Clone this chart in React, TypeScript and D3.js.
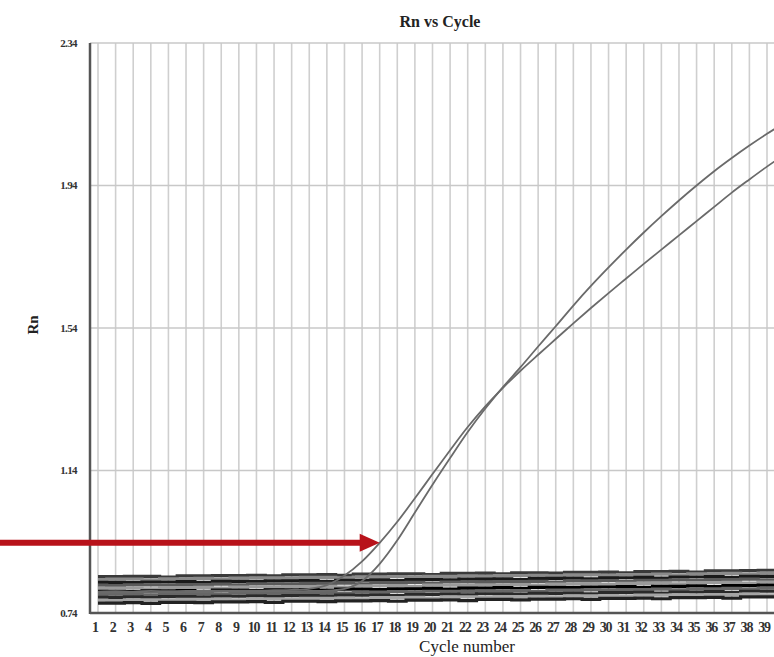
import React, { useEffect } from "react";
import * as d3 from "d3";

const cycles = d3.range(1, 41);
const yTicks = [0.74, 1.14, 1.54, 1.94, 2.34];
const hLines = [1.14, 1.54, 1.94, 2.34];

// two amplified samples
const sampleA = [0.800, 0.801, 0.800, 0.802, 0.801, 0.802, 0.802, 0.803, 0.803, 0.803, 0.804, 0.805, 0.808, 0.818, 0.845, 0.885, 0.937, 0.996, 1.062, 1.130,
  1.197, 1.262, 1.320, 1.372, 1.420, 1.465, 1.509, 1.553, 1.596, 1.638, 1.679, 1.720, 1.760, 1.800, 1.840, 1.880, 1.920, 1.957, 1.993, 2.027];
const sampleB = [0.797, 0.797, 0.798, 0.798, 0.798, 0.799, 0.799, 0.800, 0.800, 0.800, 0.801, 0.801, 0.802, 0.803, 0.808, 0.830, 0.878, 0.944, 1.022, 1.100,
  1.175, 1.248, 1.314, 1.374, 1.430, 1.488, 1.545, 1.603, 1.658, 1.710, 1.760, 1.808, 1.854, 1.898, 1.940, 1.980, 2.017, 2.052, 2.085, 2.116];

// non-amplified wells (the dark band at the bottom)
const base1 = [0.842, 0.842, 0.843, 0.843, 0.841, 0.844, 0.844, 0.845, 0.845, 0.846, 0.844, 0.847, 0.847, 0.848, 0.846, 0.849, 0.849, 0.850, 0.850, 0.848, 0.851, 0.851, 0.852, 0.850, 0.853, 0.853, 0.852, 0.854, 0.854, 0.855, 0.853, 0.856, 0.856, 0.857, 0.855, 0.858, 0.858, 0.859, 0.860, 0.860];
const base2 = [0.834, 0.835, 0.835, 0.833, 0.836, 0.836, 0.837, 0.835, 0.838, 0.838, 0.839, 0.837, 0.840, 0.840, 0.838, 0.841, 0.841, 0.842, 0.840, 0.843, 0.843, 0.844, 0.842, 0.845, 0.845, 0.846, 0.844, 0.847, 0.847, 0.845, 0.848, 0.848, 0.849, 0.847, 0.850, 0.850, 0.851, 0.849, 0.852, 0.852];
const base3 = [0.826, 0.826, 0.825, 0.827, 0.827, 0.828, 0.826, 0.829, 0.829, 0.828, 0.830, 0.830, 0.831, 0.829, 0.832, 0.832, 0.833, 0.831, 0.834, 0.834, 0.833, 0.835, 0.835, 0.836, 0.834, 0.837, 0.837, 0.838, 0.836, 0.839, 0.839, 0.840, 0.838, 0.841, 0.841, 0.842, 0.840, 0.843, 0.843, 0.844];
const base4 = [0.818, 0.817, 0.819, 0.819, 0.818, 0.820, 0.820, 0.821, 0.819, 0.822, 0.822, 0.821, 0.823, 0.823, 0.824, 0.822, 0.825, 0.825, 0.826, 0.824, 0.827, 0.827, 0.826, 0.828, 0.828, 0.829, 0.827, 0.830, 0.830, 0.831, 0.829, 0.832, 0.832, 0.833, 0.831, 0.834, 0.834, 0.835, 0.833, 0.836];
const base5 = [0.809, 0.810, 0.810, 0.808, 0.811, 0.811, 0.812, 0.810, 0.813, 0.813, 0.812, 0.814, 0.814, 0.815, 0.813, 0.816, 0.816, 0.817, 0.815, 0.818, 0.818, 0.817, 0.819, 0.819, 0.820, 0.818, 0.821, 0.821, 0.822, 0.820, 0.823, 0.823, 0.824, 0.822, 0.825, 0.825, 0.826, 0.824, 0.827, 0.827];
const base6 = [0.801, 0.801, 0.800, 0.802, 0.802, 0.803, 0.801, 0.804, 0.804, 0.803, 0.805, 0.805, 0.806, 0.804, 0.807, 0.807, 0.806, 0.808, 0.808, 0.809, 0.807, 0.810, 0.810, 0.811, 0.809, 0.812, 0.812, 0.811, 0.813, 0.813, 0.814, 0.812, 0.815, 0.815, 0.816, 0.814, 0.817, 0.817, 0.818, 0.818];
const base7 = [0.792, 0.793, 0.793, 0.791, 0.794, 0.794, 0.795, 0.793, 0.796, 0.796, 0.795, 0.797, 0.797, 0.798, 0.796, 0.799, 0.799, 0.800, 0.798, 0.801, 0.801, 0.800, 0.802, 0.802, 0.803, 0.801, 0.804, 0.804, 0.805, 0.803, 0.806, 0.806, 0.807, 0.805, 0.808, 0.808, 0.809, 0.807, 0.810, 0.810];
const base8 = [0.784, 0.784, 0.785, 0.783, 0.786, 0.786, 0.785, 0.787, 0.787, 0.788, 0.786, 0.789, 0.789, 0.788, 0.790, 0.790, 0.791, 0.789, 0.792, 0.792, 0.793, 0.791, 0.794, 0.794, 0.793, 0.795, 0.795, 0.796, 0.794, 0.797, 0.797, 0.798, 0.796, 0.799, 0.799, 0.800, 0.798, 0.801, 0.801, 0.802];
const base9 = [0.776, 0.775, 0.777, 0.777, 0.776, 0.778, 0.778, 0.779, 0.777, 0.780, 0.780, 0.779, 0.781, 0.781, 0.782, 0.780, 0.783, 0.783, 0.784, 0.782, 0.785, 0.785, 0.784, 0.786, 0.786, 0.787, 0.785, 0.788, 0.788, 0.789, 0.787, 0.790, 0.790, 0.791, 0.789, 0.792, 0.792, 0.793, 0.791, 0.794];
const base10 = [0.768, 0.768, 0.769, 0.767, 0.770, 0.770, 0.769, 0.771, 0.771, 0.772, 0.770, 0.773, 0.773, 0.772, 0.774, 0.774, 0.775, 0.773, 0.776, 0.776, 0.777, 0.775, 0.778, 0.778, 0.777, 0.779, 0.779, 0.780, 0.778, 0.781, 0.781, 0.782, 0.780, 0.783, 0.783, 0.784, 0.782, 0.785, 0.785, 0.786];

const baseSeries = [base1, base2, base3, base4, base5, base6, base7, base8, base9, base10];
const baseColors = ["#3a3a3a", "#8a8a8a", "#1a1a1a", "#5a5a5a", "#9a9a9a", "#000", "#666", "#2a2a2a", "#a5a5a5", "#222"];

// threshold crossing pointed at by the arrow
const arrowCycle = 17;
const arrowValue = 0.937;

const W = 774;
const H = 657;
const serif = "'Liberation Serif', 'DejaVu Serif', serif";

export default function App() {
  useEffect(() => {
    document.body.style.margin = "0";
  }, []);

  const x = d3.scaleLinear().domain([1, 39]).range([98, 767]);
  const y = d3.scaleLinear().domain([0.74, 2.34]).range([613, 43]);
  const left = 90;

  const line = d3.line<number>()
    .x((d, i) => x(cycles[i]))
    .y(d => y(d))
    .curve(d3.curveMonotoneX);

  const stepLine = d3.line<number>()
    .x((d, i) => x(cycles[i]))
    .y(d => y(d))
    .curve(d3.curveStep);

  const tipX = x(arrowCycle);
  const tipY = y(arrowValue);

  return (
    <svg width={W} height={H} style={{ display: "block", background: "#fff" }}>
      {/* title */}
      <text x={440} y={27} textAnchor="middle" fontFamily={serif} fontSize={16} fontWeight="bold" fill="#222">Rn vs Cycle</text>

      {/* grid */}
      {cycles.map(c => (
        <line key={"v" + c} x1={x(c)} x2={x(c)} y1={y(2.34)} y2={y(0.74)} stroke="#cfcfcf" strokeWidth={1.6} />
      ))}
      {hLines.map(v => (
        <line key={"h" + v} x1={left} x2={W} y1={y(v)} y2={y(v)} stroke="#c8c8c8" strokeWidth={1.6} />
      ))}

      {/* baseline wells */}
      {baseSeries.map((s, i) => (
        <path key={"b" + i} d={stepLine(s) || ""} fill="none" stroke={baseColors[i]} strokeWidth={3.2} />
      ))}

      {/* amplification curves */}
      <path d={line(sampleA) || ""} fill="none" stroke="#6a6a6a" strokeWidth={1.8} />
      <path d={line(sampleB) || ""} fill="none" stroke="#6a6a6a" strokeWidth={1.8} />

      {/* axes */}
      <line x1={left} x2={left} y1={y(2.34)} y2={y(0.74) + 1} stroke="#555" strokeWidth={2.5} />
      <line x1={left} x2={W} y1={y(0.74)} y2={y(0.74)} stroke="#555" strokeWidth={2.5} />

      {yTicks.map(v => (
        <text key={"yt" + v} x={77} y={y(v)} dy="0.35em" textAnchor="end" fontFamily={serif} fontSize={11} fontWeight="bold" fill="#333" letterSpacing={-0.6}>{v.toFixed(2)}</text>
      ))}
      {cycles.map(c => (
        <text key={"xt" + c} x={x(c) - 3} y={632} textAnchor="middle" fontFamily={serif} fontSize={14} fontWeight="bold" fill="#333" letterSpacing={-1.2}>{c}</text>
      ))}

      <text x={467} y={652} textAnchor="middle" fontFamily={serif} fontSize={17} fill="#222">Cycle number</text>
      <text transform={`translate(38,325) rotate(-90)`} textAnchor="middle" fontFamily={serif} fontSize={15} fontWeight="bold" fill="#222">Rn</text>

      {/* red arrow */}
      <line x1={0} x2={tipX - 18} y1={tipY} y2={tipY} stroke="#b8121a" strokeWidth={6} />
      <polygon points={`${tipX},${tipY} ${tipX - 20},${tipY - 9} ${tipX - 20},${tipY + 9}`} fill="#b8121a" />
    </svg>
  );
}
